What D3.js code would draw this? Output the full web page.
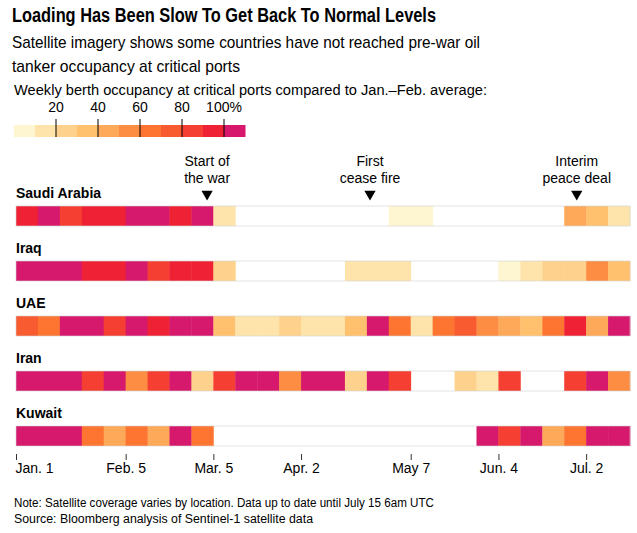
<!DOCTYPE html>
<html>
<head>
<meta charset="utf-8">
<script src="https://cdn.jsdelivr.net/npm/d3@7"></script>
<style>
  body { margin: 0; background: #fff; }
  svg text { font-family: "Liberation Sans", Arial, sans-serif; fill: #000; }
</style>
</head>
<body>
<svg id="chart" width="637" height="533"></svg>
<script>
// weekly berth occupancy, % of Jan.-Feb. average (null = no satellite coverage)
var countries = ["Saudi Arabia", "Iraq", "UAE", "Iran", "Kuwait"];

var saudiArabia = [95, 110, 85, 95, 95, 110, 110, 95, 110, 15, null, null, null, null, null, null, null, 5, 5, null, null, null, null, null, null, 45, 35, 15];
var iraq        = [110, 110, 110, 95, 95, 110, 85, 95, 95, 25, null, null, null, null, null, 15, 15, 15, null, null, null, null, 5, 15, 25, 25, 55, 35];
var uae         = [75, 65, 110, 110, 85, 110, 95, 110, 110, 35, 15, 15, 25, 15, 15, 35, 110, 65, 15, 65, 75, 55, 45, 35, 65, 95, 45, 110];
var iran        = [110, 110, 110, 85, 110, 55, 85, 110, 25, 85, 110, 110, 55, 110, 110, 25, 110, 85, null, null, 25, 15, 85, null, null, 85, 110, 55];
var kuwait      = [110, 110, 110, 65, 45, 65, 45, 110, 65, null, null, null, null, null, null, null, null, null, null, null, null, 110, 85, 110, 45, 65, 110, 110];

var seriesValues = [saudiArabia, iraq, uae, iran, kuwait];

// legend bins
var binEdges = [10, 20, 30, 40, 50, 60, 70, 80, 90, 100];
var binColors = ["#fef5d1", "#fee4aa", "#fed28c", "#ffc16e", "#fea85a", "#fd8d42",
                 "#fd7531", "#f95b30", "#f43f32", "#ef2134", "#d6196d"];
var legendTicks = [20, 40, 60, 80, 100];
var legendTickLabels = ["20", "40", "60", "80", "100%"];

// time axis
var firstWeek = "2026-01-01";
var lastDay = "2026-07-16";
var axisDates = ["2026-01-01", "2026-02-05", "2026-03-05", "2026-04-02", "2026-05-07", "2026-06-04", "2026-07-02"];
var axisTickLabels = ["Jan. 1", "Feb. 5", "Mar. 5", "Apr. 2", "May 7", "Jun. 4", "Jul. 2"];

// events
var eventDates = ["2026-03-03", "2026-04-24", "2026-06-29"];
var eventLabels = [["Start of", "the war"], ["First", "cease fire"], ["Interim", "peace deal"]];

var svg = d3.select("#chart");
var parse = d3.utcParse("%Y-%m-%d");

// set a line of text to the width it has in the original
function fit(sel, w) {
    sel.attr("textLength", w).attr("lengthAdjust", "spacingAndGlyphs");
    return sel;
}

// headings
fit(svg.append("text").attr("x", 12).attr("y", 22)
    .style("font-size", "20px").style("font-weight", "bold")
    .text("Loading Has Been Slow To Get Back To Normal Levels"), 424);

fit(svg.append("text").attr("x", 12).attr("y", 48).style("font-size", "17px")
    .text("Satellite imagery shows some countries have not reached pre-war oil"), 468);
fit(svg.append("text").attr("x", 12).attr("y", 72).style("font-size", "17px")
    .text("tanker occupancy at critical ports"), 228);

fit(svg.append("text").attr("x", 14).attr("y", 95).style("font-size", "14px")
    .text("Weekly berth occupancy at critical ports compared to Jan.\u2013Feb. average:"), 473);

// legend
var lx = d3.scaleLinear().domain([0, 110]).range([14, 245]);
var color = d3.scaleThreshold().domain(binEdges).range(binColors);

var legend = svg.append("g");
legend.selectAll("rect")
    .data(binColors)
    .join("rect")
    .attr("x", (d, i) => lx(i * 10))
    .attr("y", 125)
    .attr("width", (d, i) => lx((i + 1) * 10) - lx(i * 10) + 0.5)
    .attr("height", 12)
    .attr("fill", d => d);

legend.selectAll("line")
    .data(legendTicks)
    .join("line")
    .attr("x1", d => lx(d)).attr("x2", d => lx(d))
    .attr("y1", 119).attr("y2", 137)
    .attr("stroke", "#000").attr("stroke-width", 1);

legend.selectAll("text")
    .data(legendTicks)
    .join("text")
    .attr("x", d => lx(d))
    .attr("y", 112)
    .attr("text-anchor", "middle")
    .style("font-size", "14px")
    .text((d, i) => legendTickLabels[i]);

// scales for the grid
var weeks = d3.range(saudiArabia.length).map(i => d3.utcDay.offset(parse(firstWeek), i * 7));
var x = d3.scaleUtc().domain([parse(firstWeek), parse(lastDay)]).range([16, 630]);
var y = d3.scalePoint().domain(countries).range([206, 426]);
var cellH = 20;

var rows = svg.selectAll("g.row")
    .data(countries)
    .join("g")
    .attr("class", "row")
    .attr("transform", d => "translate(0," + y(d) + ")");

rows.append("text")
    .attr("x", 16).attr("y", -8)
    .style("font-size", "14px").style("font-weight", "bold")
    .text(d => d);

rows.each(function (c, ci) {
    var g = d3.select(this);
    var cells = seriesValues[ci]
        .map((v, i) => ({ v: v, start: weeks[i], end: d3.utcDay.offset(weeks[i], 7) }))
        .filter(d => d.v !== null);

    g.selectAll("rect.cell")
        .data(cells)
        .join("rect")
        .attr("class", "cell")
        .attr("x", d => x(d.start))
        .attr("width", d => x(d.end) - x(d.start) + 0.4)
        .attr("y", 0)
        .attr("height", cellH)
        .attr("fill", d => color(d.v));

    // thin frame round the row, drawn on top
    g.append("rect")
        .attr("x", x.range()[0]).attr("y", 0)
        .attr("width", x.range()[1] - x.range()[0])
        .attr("height", cellH)
        .attr("fill", "none")
        .attr("stroke", "#d4d4d4")
        .attr("stroke-opacity", 0.6)
        .attr("stroke-width", 1);
});

// event markers
var ev = svg.selectAll("g.event")
    .data(eventDates)
    .join("g")
    .attr("class", "event")
    .attr("transform", d => "translate(" + x(parse(d)) + ",0)");

ev.each(function (d, i) {
    var g = d3.select(this);
    eventLabels[i].forEach(function (line, j) {
        g.append("text")
            .attr("x", 0).attr("y", 166 + j * 17)
            .attr("text-anchor", "middle")
            .style("font-size", "14px")
            .text(line);
    });
});

ev.append("path")
    .attr("d", d3.symbol(d3.symbolTriangle, 55))
    .attr("transform", "translate(0,194) rotate(180)")
    .attr("fill", "#000");

// time axis
var axis = svg.append("g")
    .attr("transform", "translate(0,454)")
    .call(d3.axisBottom(x)
        .tickValues(axisDates.map(parse))
        .tickFormat((d, i) => axisTickLabels[i])
        .tickSize(6)
        .tickPadding(3));

axis.select(".domain").remove();
axis.selectAll(".tick line").attr("stroke", "#333");
axis.selectAll(".tick text")
    .style("font-family", "'Liberation Sans', Arial, sans-serif")
    .style("font-size", "14px")
    .attr("fill", "#000");
axis.select(".tick text").attr("text-anchor", "start").attr("x", -1);

// notes
fit(svg.append("text").attr("x", 14).attr("y", 507).style("font-size", "12.5px")
    .text("Note: Satellite coverage varies by location. Data up to date until July 15 6am UTC"), 420);
fit(svg.append("text").attr("x", 14).attr("y", 523).style("font-size", "12.5px")
    .text("Source: Bloomberg analysis of Sentinel-1 satellite data"), 299);
</script>
</body>
</html>
